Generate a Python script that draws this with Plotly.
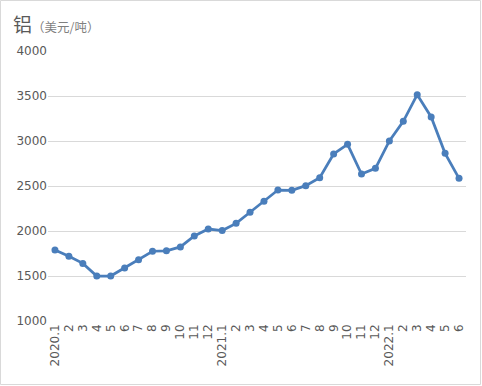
import plotly.graph_objects as go

categories = ["2020.1", "2", "3", "4", "5", "6", "7", "8", "9", "10", "11", "12",
              "2021.1", "2", "3", "4", "5", "6", "7", "8", "9", "10", "11", "12",
              "2022.1", "2", "3", "4", "5", "6"]
values = [1790, 1720, 1640, 1500, 1500, 1590, 1680, 1775, 1780, 1823, 1945, 2022,
          2005, 2085, 2208, 2330, 2455, 2452, 2504, 2593, 2856, 2963, 2633, 2696,
          3000, 3219, 3515, 3267, 2863, 2585]
y_ticks = [1000, 1500, 2000, 2500, 3000, 3500, 4000]

x_idx = list(range(len(categories)))

W, H = 482, 386
ml, mr, mt, mb = 48, 16, 51, 65
pw, ph = W - ml - mr, H - mt - mb

fig = go.Figure(go.Scatter(
    x=x_idx, y=values, mode="lines+markers",
    line=dict(color="#4A7EBB", width=2.75),
    marker=dict(color="#4A7EBB", size=7),
    hoverinfo="skip",
))

fig.update_layout(
    width=W, height=H,
    margin=dict(l=ml, r=mr, t=mt, b=mb),
    paper_bgcolor="white", plot_bgcolor="white",
    showlegend=False,
    font=dict(family="DejaVu Sans, Noto Sans CJK SC", color="#595959", size=12),
    xaxis=dict(
        tickmode="array", tickvals=x_idx, ticktext=categories,
        range=[-0.5, len(categories) - 0.5],
        tickangle=-90, showgrid=False, zeroline=False,
        showline=False, ticks="", tickfont=dict(size=12, color="#595959"),
    ),
    yaxis=dict(
        range=[1000, 4000], tickvals=y_ticks,
        showgrid=True, gridcolor="#D9D9D9", gridwidth=1,
        zeroline=False, showline=False, ticks="",
        tickfont=dict(size=12, color="#595959"),
    ),
    annotations=[dict(
        xref="paper", yref="paper",
        x=-37 / pw, y=1 + 28 / ph, xanchor="left", yanchor="middle",
        text="<span style='font-size:19px;color:#595959'>铝</span>"
             "<span style='font-size:12.5px;color:#7F7F7F'>（美元/吨）</span>",
        showarrow=False,
        font=dict(family="Noto Sans CJK SC"),
    )],
    shapes=[dict(
        type="rect", xref="paper", yref="paper",
        x0=-(ml - 0.5) / pw, x1=1 + (mr - 1.5) / pw,
        y0=-(mb - 1.5) / ph, y1=1 + (mt - 0.5) / ph,
        line=dict(color="#D9D9D9", width=1), layer="below",
    )],
)

fig.write_html("out.html", config={"displayModeBar": False},
               post_script="document.body.style.margin='0';")
